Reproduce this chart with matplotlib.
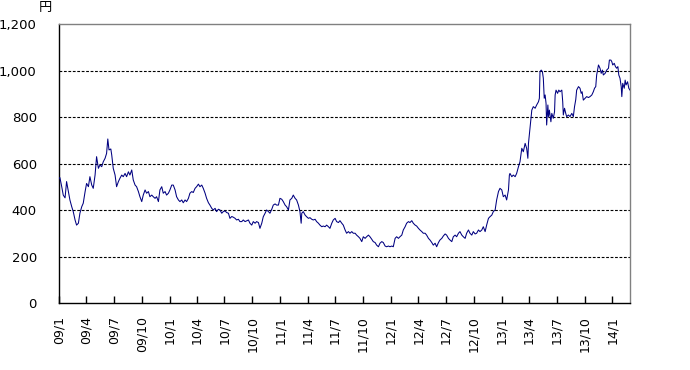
import numpy as np
import matplotlib
matplotlib.use("Agg")
import matplotlib.pyplot as plt
import matplotlib.dates as mdates
from matplotlib.ticker import FuncFormatter

start_date = "2009-01-01"
end_date = "2014-02-28"

# days elapsed since start_date
day_offsets = [
    0, 3, 9, 14, 20, 25, 31, 36, 42, 47, 53, 58, 64, 69, 75, 80, 86, 91, 97, 102,
    108, 113, 119, 124, 130, 135, 141, 146, 152, 157, 161, 165, 171, 174, 179, 185, 190, 196, 201, 207,
    212, 218, 223, 229, 234, 240, 245, 251, 256, 262, 267, 273, 278, 284, 289, 295, 300, 306, 311,
    317, 322, 328, 333, 339, 344, 350, 355, 361, 366, 372, 377, 383, 388, 394, 399, 405, 410, 416, 421,
    427, 432, 438, 443, 449, 454, 460, 465, 471, 476, 482, 487, 493, 498, 504, 509, 515, 520, 526, 531,
    537, 542, 548, 553, 559, 564, 570, 575, 581, 586, 592, 597, 603, 608, 614,
    619, 625, 630, 636, 641, 647, 652, 658, 663, 669, 674, 680, 685, 691, 696, 702, 707, 713, 718, 724,
    729, 735, 740, 746, 751, 757, 762, 768, 773, 779, 784, 790, 795, 799, 801, 806, 812, 817, 823, 828,
    834, 839, 845, 850, 856, 861, 867, 872, 878, 883, 889, 894, 900, 905, 911, 916, 922, 927, 933, 938,
    944, 949, 955, 960, 966, 971, 977, 982, 988, 993, 999, 1004, 1010, 1015, 1021, 1026, 1032, 1037, 1043, 1048,
    1054, 1059, 1065, 1070, 1076, 1081, 1087, 1092, 1098, 1103, 1109, 1114, 1120, 1125, 1131, 1136, 1142, 1147, 1153, 1158,
    1164, 1169, 1175, 1180, 1186, 1191, 1197, 1202, 1208, 1213, 1219, 1224, 1230, 1235, 1241, 1246,
    1252, 1257, 1263, 1268, 1274, 1279, 1285, 1290, 1296, 1301, 1307, 1312, 1318, 1323, 1329, 1334, 1340, 1345, 1351, 1356,
    1362, 1367, 1373, 1378, 1384, 1389, 1395, 1400, 1406, 1411, 1417, 1422, 1428, 1433, 1439, 1444, 1450, 1455, 1461, 1466,
    1472, 1477, 1483, 1486, 1488, 1494, 1499, 1505, 1510, 1516, 1521, 1527, 1532, 1538, 1543, 1547, 1549, 1554,
    1558, 1560, 1565, 1571, 1576, 1582, 1585, 1587, 1591, 1595, 1598, 1601, 1604, 1607, 1609, 1613, 1615, 1618, 1623, 1626,
    1631, 1635, 1637, 1640, 1645, 1649, 1653, 1659, 1662, 1664, 1668, 1672, 1675, 1681, 1686, 1692, 1697, 1701, 1705, 1708,
    1714, 1719, 1723, 1726, 1730, 1736, 1741, 1747, 1752, 1758, 1763, 1767, 1771, 1774, 1780, 1785, 1789, 1793, 1796, 1802,
    1807, 1813, 1816, 1821, 1824, 1827, 1832, 1836, 1840, 1844, 1847, 1851, 1855, 1857, 1860, 1865, 1868, 1871, 1876, 1880,
    1884,
]

prices = [
    537, 540, 501, 465, 453, 523, 480, 444, 415, 394, 358, 336, 344, 387, 415, 430, 479, 515, 501, 544,
    508, 494, 551, 630, 580, 594, 587, 608, 623, 644, 706, 659, 663, 637, 580, 551, 501, 523, 537, 551,
    544, 558, 544, 565, 551, 573, 530, 508, 501, 480, 458, 437, 465, 487, 473, 480, 458, 465, 458,
    451, 458, 437, 487, 501, 473, 480, 465, 473, 487, 508, 508, 487, 458, 444, 437, 444, 432, 444, 437,
    451, 473, 480, 476, 494, 501, 512, 501, 508, 494, 473, 451, 432, 422, 408, 401, 408, 394, 404, 401,
    387, 394, 397, 390, 387, 365, 373, 370, 365, 358, 361, 351, 351, 358, 351,
    354, 358, 344, 336, 351, 344, 351, 347, 322, 344, 372, 387, 401, 394, 387, 404, 422, 427, 422, 422,
    451, 447, 437, 422, 415, 401, 444, 451, 465, 451, 444, 422, 394, 344, 387, 394, 379, 372, 365, 368,
    361, 358, 361, 351, 344, 336, 329, 332, 329, 336, 329, 322, 344, 358, 365, 351, 347, 355, 344, 336,
    315, 301, 308, 301, 308, 301, 301, 293, 286, 279, 265, 286, 279, 286, 293, 286, 275, 265, 261, 250,
    243, 258, 265, 261, 246, 243, 246, 243, 246, 243, 279, 286, 279, 286, 293, 315, 329, 344, 351, 347,
    355, 344, 336, 332, 322, 315, 308, 301, 301, 293, 279, 272, 261, 250, 258, 243,
    261, 272, 279, 289, 298, 293, 279, 272, 265, 286, 293, 286, 301, 308, 293, 286, 279, 301, 315, 301,
    293, 308, 298, 301, 315, 308, 315, 329, 308, 336, 365, 372, 379, 394, 401, 444, 480, 494, 487, 458,
    465, 444, 487, 551, 558, 544, 551, 544, 558, 587, 608, 666, 651, 687, 666, 623, 687, 752,
    802, 830, 845, 838, 852, 866, 881, 995, 1002, 995, 967, 881, 895, 859, 766, 852, 802, 830, 780, 816,
    795, 823, 895, 916, 902, 916, 909, 916, 866, 809, 838, 816, 802, 809, 802, 816, 802, 845, 875, 916,
    931, 924, 902, 909, 873, 881, 888, 884, 888, 895, 909, 924, 931, 981, 1024, 1010, 988, 1002, 981, 988,
    1002, 1010, 1045, 1045, 1038, 1024, 1031, 1017, 1010, 1017, 981, 967, 931, 888, 945, 924, 959, 938, 952, 924,
    916,
]

y_ticks = [0, 200, 400, 600, 800, 1000, 1200]
x_tick_dates = ["2009-01-01", "2009-04-01", "2009-07-01", "2009-10-01",
                "2010-01-01", "2010-04-01", "2010-07-01", "2010-10-01",
                "2011-01-01", "2011-04-01", "2011-07-01", "2011-10-01",
                "2012-01-01", "2012-04-01", "2012-07-01", "2012-10-01",
                "2013-01-01", "2013-04-01", "2013-07-01", "2013-10-01",
                "2014-01-01"]
x_tick_labels = ["09/1", "09/4", "09/7", "09/10", "10/1", "10/4", "10/7", "10/10",
                 "11/1", "11/4", "11/7", "11/10", "12/1", "12/4", "12/7", "12/10",
                 "13/1", "13/4", "13/7", "13/10", "14/1"]
unit_label = "円"

dates = np.datetime64(start_date) + np.array(day_offsets).astype("timedelta64[D]")

fig = plt.figure(figsize=(6.9, 3.7), dpi=100)
ax = fig.add_axes([59 / 690, 1 - 303.3 / 370, (630 - 59) / 690, (303.3 - 24) / 370])

ax.plot(dates, prices, color="#000080", lw=0.75, zorder=3)

ax.set_ylim(0, 1200)
ax.set_xlim(np.datetime64(start_date), np.datetime64(end_date))

for v in y_ticks[1:-1]:
    ax.axhline(v, color="black", lw=0.8, linestyle=(0, (2.5, 1.5)), zorder=1)

ax.set_yticks(y_ticks)
ax.yaxis.set_major_formatter(FuncFormatter(lambda v, p: f"{int(v):,}"))
ax.tick_params(axis="y", length=0, pad=16, labelsize=9.5)

xt = [mdates.date2num(np.datetime64(d)) for d in x_tick_dates]
ax.set_xticks(xt)
ax.set_xticklabels(x_tick_labels, rotation=90)
ax.tick_params(axis="x", direction="in", length=5, width=1, pad=9, labelsize=9)

for s in ["left", "bottom"]:
    ax.spines[s].set_color("black")
    ax.spines[s].set_linewidth(1)
for s in ["top", "right"]:
    ax.spines[s].set_color("#808080")
    ax.spines[s].set_linewidth(1)

fig.text(45 / 690, 1 - 8 / 370, unit_label, ha="center", va="center", fontsize=9.5,
         family=["Noto Sans CJK JP", "DejaVu Sans"])

fig.savefig("out.png", dpi=100)
